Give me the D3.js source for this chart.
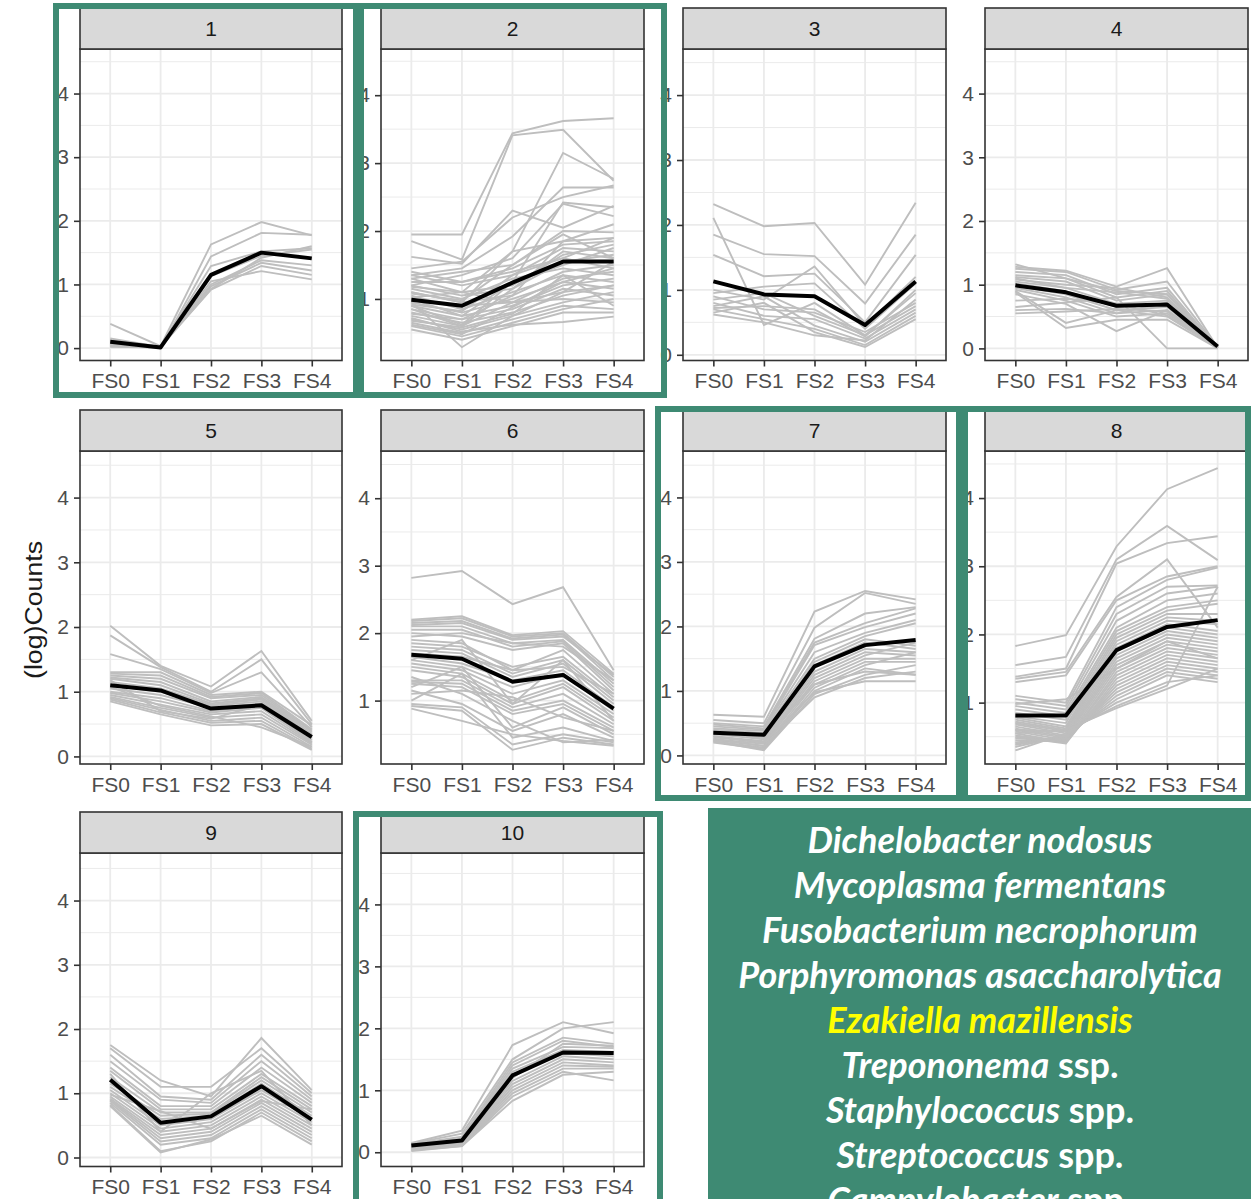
<!DOCTYPE html>
<html>
<head>
<meta charset="utf-8">
<script src="https://cdn.jsdelivr.net/npm/d3@7"></script>
<style>
  body { margin: 0; background: #fff; }
  svg { display: block; }
</style>
</head>
<body>
<div id="chart"></div>
<script>
// stages on the x axis
var stages = ["FS0", "FS1", "FS2", "FS3", "FS4"];
var yTicks = [0, 1, 2, 3, 4];
var yMinor = [0.5, 1.5, 2.5, 3.5, 4.5];
var panelNames = ["1", "2", "3", "4", "5", "6", "7", "8", "9", "10"];
var highlighted = ["1", "2", "7", "8", "10"];

// cluster mean (black line)
var meanLines = [
  [0.10, 0.01, 1.15, 1.50, 1.41],
  [0.99, 0.90, 1.24, 1.55, 1.55],
  [1.13, 0.93, 0.90, 0.46, 1.13],
  [0.99, 0.88, 0.67, 0.69, 0.03],
  [1.10, 1.02, 0.74, 0.79, 0.30],
  [1.68, 1.62, 1.28, 1.38, 0.88],
  [0.35, 0.32, 1.38, 1.71, 1.79],
  [0.81, 0.81, 1.77, 2.11, 2.21],
  [1.21, 0.54, 0.64, 1.11, 0.59],
  [0.11, 0.19, 1.24, 1.61, 1.60]
];

// individual taxa (grey lines), one array per cluster
var grey1 = [
  [0.38,0.03,1.63,1.98,1.77],[0.05,0.00,1.44,1.81,1.78],[0.12,0.02,1.29,1.52,1.57],
  [0.08,0.00,1.13,1.45,1.55],[0.02,0.01,0.97,1.34,1.22],[0.15,0.02,0.92,1.29,1.15],
  [0.05,0.00,1.05,1.21,1.08],[0.10,0.01,1.00,1.38,1.30],[0.03,0.02,0.93,1.42,1.60]
];
var grey2 = [
  [1.95,1.95,3.44,3.62,3.66],[1.85,1.58,3.41,3.49,2.74],[1.02,1.10,1.70,3.15,2.77],
  [1.62,1.52,2.30,2.05,2.37],[1.45,1.55,2.20,2.50,2.67],[1.35,1.45,1.92,2.64,2.64],
  [1.20,1.35,1.60,2.40,2.22],[0.90,0.62,1.25,2.42,2.35],[1.10,0.95,1.70,1.85,2.10],
  [1.30,1.40,1.50,2.00,1.98],[0.95,0.29,0.75,1.10,1.55],[1.40,1.25,1.45,1.80,1.85],
  [1.35,1.20,1.35,1.75,1.70],[1.30,1.10,1.20,1.65,1.80],[1.25,1.25,1.40,1.60,1.45],
  [1.20,1.05,1.15,1.55,1.65],[1.15,1.00,1.30,1.45,1.35],[1.10,0.95,1.05,1.40,1.50],
  [1.05,0.85,1.10,1.35,1.25],[1.00,0.90,0.95,1.30,1.40],[0.95,0.80,1.00,1.25,1.15],
  [0.90,0.75,0.90,1.20,1.30],[0.85,0.70,0.85,1.15,1.05],[0.80,0.65,0.80,1.05,1.20],
  [0.75,0.60,0.95,1.00,0.95],[0.70,0.55,0.75,0.95,1.10],[0.65,0.50,0.70,0.90,0.85],
  [0.60,0.45,0.65,0.85,1.00],[0.55,0.40,0.60,0.80,0.80],[0.72,0.52,0.62,0.66,0.74],
  [0.85,0.60,1.15,1.70,1.60],[1.00,0.75,1.25,1.50,1.75],[0.78,0.70,1.05,1.85,1.90],
  [1.18,1.10,0.95,1.10,1.20],[0.62,0.48,0.88,1.25,1.45],[0.92,0.82,1.35,1.60,1.90],
  [1.08,0.98,1.50,1.95,1.60],[0.68,0.58,0.78,1.35,0.90]
];
var grey3 = [
  [2.32,1.98,2.03,1.08,2.34],[2.11,0.46,0.80,0.30,0.95],[1.85,1.55,1.52,0.79,1.85],
  [1.54,1.21,1.25,0.50,1.54],[1.00,0.85,1.36,0.45,1.20],[0.95,1.05,1.10,0.40,1.10],
  [0.90,0.70,0.65,0.35,0.80],[0.85,0.95,0.60,0.30,0.75],[0.80,0.60,0.55,0.25,0.70],
  [0.75,0.90,0.45,0.20,0.65],[0.70,0.55,0.40,0.15,0.60],[0.65,0.80,0.35,0.12,0.55],
  [0.62,0.50,0.30,0.22,0.85],[0.72,0.75,0.70,0.28,1.00]
];
var grey4 = [
  [1.32,1.10,0.90,0.85,0.02],[1.28,1.22,0.97,1.26,0.01],[1.25,1.20,0.92,1.05,0.02],
  [1.20,1.15,0.85,0.95,0.01],[1.15,1.10,0.80,0.90,0.00],[1.12,1.05,0.75,0.85,0.02],
  [1.08,1.00,0.95,0.80,0.01],[1.05,0.95,0.70,0.75,0.00],[1.02,0.90,0.65,0.70,0.02],
  [0.98,0.85,0.60,0.65,0.01],[0.95,0.80,0.55,0.60,0.00],[0.92,0.75,0.50,0.55,0.02],
  [0.90,0.40,0.60,0.50,0.01],[0.88,0.32,0.45,0.45,0.00],[0.85,0.70,0.27,0.60,0.02],
  [0.65,0.72,0.80,0.00,0.00],[0.60,0.62,0.55,0.72,0.01],[0.55,0.58,0.62,0.58,0.00],
  [1.10,0.95,0.88,0.78,0.02],[0.75,0.78,0.70,0.52,0.01]
];
var grey5 = [
  [2.02,1.40,1.08,1.63,0.55],[1.87,1.38,1.00,1.50,0.50],[1.58,1.35,0.98,1.30,0.45],
  [1.30,1.30,0.95,1.00,0.48],[1.28,1.25,0.92,0.98,0.42],[1.25,1.20,0.90,0.95,0.40],
  [1.22,1.15,0.85,0.92,0.38],[1.20,1.10,0.82,0.90,0.35],[1.15,1.05,0.80,0.88,0.32],
  [1.10,1.00,0.78,0.85,0.30],[1.05,0.95,0.75,0.82,0.28],[1.00,0.90,0.70,0.78,0.25],
  [0.98,0.85,0.68,0.75,0.22],[0.95,0.80,0.65,0.70,0.20],[0.92,0.75,0.60,0.65,0.18],
  [0.90,0.72,0.55,0.60,0.15],[0.88,0.68,0.52,0.55,0.12],[0.85,0.65,0.48,0.50,0.10],
  [1.08,0.78,0.62,0.45,0.15],[1.18,0.70,0.58,0.80,0.22]
];
var grey6 = [
  [2.82,2.92,2.43,2.68,1.45],[2.20,2.25,1.97,2.03,1.40],[2.18,2.22,1.95,2.00,1.35],
  [2.15,2.18,1.92,1.98,1.30],[2.12,2.15,1.90,1.95,1.38],[2.10,2.10,1.85,1.90,1.25],
  [2.05,2.05,1.80,1.88,1.20],[2.00,1.95,1.75,1.85,1.15],[1.95,2.00,1.85,1.80,1.30],
  [1.90,1.85,1.45,1.75,1.10],[1.85,1.80,1.50,1.65,1.05],[1.80,1.75,1.40,1.60,1.00],
  [1.75,1.70,1.35,1.55,0.95],[1.70,1.65,1.45,1.50,1.10],[1.65,1.55,1.30,1.45,0.90],
  [1.60,1.50,1.20,1.40,0.85],[1.55,1.45,1.10,1.30,0.80],[1.50,1.40,1.00,1.25,0.75],
  [1.45,1.35,0.95,1.20,0.70],[1.30,1.30,0.90,1.10,0.65],[1.28,1.25,0.85,1.00,0.60],
  [1.25,1.20,0.80,0.95,0.55],[1.20,1.50,0.60,0.90,0.50],[1.15,0.95,0.55,0.80,0.45],
  [1.00,1.40,0.45,0.60,0.40],[0.95,0.90,0.35,0.50,0.38],[0.92,0.85,0.27,0.45,0.35],
  [0.88,0.70,0.50,0.40,0.33],[1.10,1.15,1.05,0.75,0.55],[1.35,1.10,0.70,0.38,0.42],
  [1.60,1.90,0.95,1.60,0.70]
];
var grey7 = [
  [0.63,0.60,2.23,2.55,2.42],[0.55,0.50,1.98,2.52,2.35],[0.50,0.45,1.81,2.20,2.30],
  [0.48,0.42,1.75,2.05,2.28],[0.45,0.40,1.71,1.99,2.20],[0.42,0.38,1.60,1.90,2.10],
  [0.40,0.35,1.50,1.85,2.05],[0.38,0.30,1.45,1.80,1.70],[0.35,0.28,1.40,1.75,1.65],
  [0.33,0.25,1.30,1.65,1.60],[0.30,0.22,1.25,1.60,1.55],[0.28,0.20,1.20,1.55,1.75],
  [0.25,0.18,1.15,1.50,1.50],[0.24,0.15,1.10,1.45,1.45],[0.22,0.12,1.05,1.40,1.60],
  [0.20,0.10,1.00,1.35,1.25],[0.22,0.08,0.95,1.25,1.40],[0.26,0.14,0.90,1.20,1.30],
  [0.30,0.20,0.98,1.15,1.15],[0.36,0.26,1.10,1.30,1.25]
];
var grey8 = [
  [1.83,1.99,3.29,4.13,4.44],[1.55,1.67,3.10,3.59,3.09],[1.38,1.50,3.04,3.34,3.44],
  [1.35,1.45,2.55,3.10,2.10],[1.30,1.40,2.50,2.85,3.00],[1.10,1.00,2.40,2.80,2.98],
  [1.05,0.95,2.30,2.70,2.72],[1.00,0.90,2.20,2.60,2.70],[0.95,0.85,2.10,2.50,2.60],
  [0.90,0.80,2.05,2.40,2.50],[0.85,0.75,2.00,2.35,2.45],[0.80,0.70,1.95,2.30,2.30],
  [0.78,0.65,1.90,2.25,2.20],[0.75,0.62,1.85,2.20,2.15],[0.72,0.60,1.80,2.15,2.05],
  [0.70,0.58,1.75,2.10,2.00],[0.68,0.55,1.70,2.05,1.95],[0.65,0.52,1.65,2.00,1.90],
  [0.62,0.50,1.60,1.95,1.85],[0.60,0.48,1.55,1.90,1.80],[0.58,0.45,1.50,1.85,1.75],
  [0.55,0.42,1.45,1.80,1.70],[0.52,0.42,1.40,1.75,1.65],[0.50,0.40,1.35,1.70,1.60],
  [0.48,0.42,1.30,1.65,1.55],[0.45,0.44,1.25,1.60,1.50],[0.42,0.46,1.20,1.55,1.45],
  [0.40,0.48,1.15,1.50,1.40],[0.38,0.50,1.10,1.45,1.35],[0.35,0.52,1.05,1.40,1.30],
  [0.30,0.55,1.00,1.30,1.40],[0.60,0.58,0.95,1.25,2.70],[0.55,0.60,0.92,1.20,1.50],
  [0.98,1.05,1.50,1.90,1.65]
];
var grey9 = [
  [1.75,1.20,0.95,1.86,1.05],[1.70,1.10,1.10,1.70,1.00],[1.60,0.95,0.90,1.60,0.95],
  [1.50,0.90,0.85,1.50,0.90],[1.40,0.80,0.80,1.40,0.85],[1.35,0.75,0.75,1.30,0.80],
  [1.25,0.70,0.70,1.25,0.75],[1.15,0.65,0.68,1.20,0.70],[1.10,0.60,0.65,1.15,0.65],
  [1.05,0.50,0.60,1.05,0.60],[1.00,0.45,0.55,1.00,0.55],[0.95,0.40,0.50,0.95,0.50],
  [0.92,0.35,0.45,0.90,0.45],[0.90,0.30,0.40,0.85,0.40],[0.88,0.25,0.35,0.80,0.35],
  [0.85,0.20,0.30,0.75,0.30],[0.82,0.10,0.25,0.70,0.25],[0.80,0.08,0.28,0.65,0.20],
  [1.30,0.40,1.00,1.35,0.50],[0.98,0.72,0.45,0.88,0.75]
];
var grey10 = [
  [0.15,0.35,1.73,2.10,1.92],[0.14,0.30,1.50,2.00,2.10],[0.13,0.25,1.45,1.85,1.75],
  [0.12,0.22,1.40,1.80,1.70],[0.11,0.20,1.35,1.70,1.68],[0.10,0.18,1.30,1.65,1.62],
  [0.09,0.16,1.25,1.60,1.55],[0.08,0.15,1.15,1.55,1.50],[0.07,0.14,1.10,1.50,1.45],
  [0.06,0.13,1.05,1.45,1.40],[0.05,0.12,1.00,1.40,1.38],[0.04,0.11,0.95,1.35,1.35],
  [0.03,0.10,0.90,1.30,1.16],[0.02,0.10,0.83,1.25,1.30],[0.08,0.20,1.20,1.75,1.72]
];
var greyLines = [grey1, grey2, grey3, grey4, grey5, grey6, grey7, grey8, grey9, grey10];

// species list in the text box
var speciesItalic = ["Dichelobacter nodosus", "Mycoplasma fermentans", "Fusobacterium necrophorum",
  "Porphyromonas asaccharolytica", "Ezakiella mazillensis", "Trepononema", "Staphylococcus",
  "Streptococcus", "Campylobacter"];
var speciesSuffix = ["", "", "", "", "", " ssp.", " spp.", " spp.", " spp."];
var speciesMarked = ["Ezakiella mazillensis"];

// each panel was pasted at a slightly different vertical scale
var panelYDomain = [
  [-0.195, 4.70], [0.094, 4.68], [-0.088, 4.71], [-0.19, 4.70], [-0.117, 4.72],
  [0.06, 4.70], [-0.133, 4.72], [0.10, 4.69], [-0.14, 4.74], [-0.23, 4.83]
];

var W = 1251, H = 1199;
var green = "#3e8a73";
var font = "Liberation Sans, Arial, sans-serif";
var cols = [[80, 342], [381, 644], [683, 946], [985, 1248]];
var rows = [{strip: 8, top: 49, bottom: 360.5}, {strip: 410, top: 451, bottom: 764}, {strip: 812, top: 853, bottom: 1166.5}];

var svg = d3.select("#chart").append("svg").attr("width", W).attr("height", H);

var line = d3.line();

panelNames.forEach(function(name, i) {
  var c = cols[i % 4], r = rows[Math.floor(i / 4)];
  var x = d3.scalePoint().domain(stages).range(c).padding(0.6);
  var y = d3.scaleLinear().domain(panelYDomain[i]).range([r.bottom, r.top]);
  var g = svg.append("g").attr("class", "panel");

  g.append("rect").attr("x", c[0]).attr("y", r.top).attr("width", c[1] - c[0]).attr("height", r.bottom - r.top)
    .attr("fill", "#fff");

  var minor = yMinor.filter(function(v) { return v > y.domain()[0] && v < y.domain()[1]; });
  var major = yTicks.filter(function(v) { return v > y.domain()[0] && v < y.domain()[1]; });

  g.selectAll(".minor").data(minor).enter().append("line")
    .attr("x1", c[0]).attr("x2", c[1]).attr("y1", y).attr("y2", y)
    .attr("stroke", "#ebebeb").attr("stroke-width", 1);
  g.selectAll(".major").data(major).enter().append("line")
    .attr("x1", c[0]).attr("x2", c[1]).attr("y1", y).attr("y2", y)
    .attr("stroke", "#ebebeb").attr("stroke-width", 1.8);
  g.selectAll(".vgrid").data(stages).enter().append("line")
    .attr("x1", x).attr("x2", x).attr("y1", r.top).attr("y2", r.bottom)
    .attr("stroke", "#ebebeb").attr("stroke-width", 1.8);

  g.selectAll(".grey").data(greyLines[i]).enter().append("path")
    .attr("d", function(d) { return line(d.map(function(v, k) { return [x(stages[k]), y(v)]; })); })
    .attr("fill", "none").attr("stroke", "#bebebe").attr("stroke-width", 1.9);

  g.append("path")
    .attr("d", line(meanLines[i].map(function(v, k) { return [x(stages[k]), y(v)]; })))
    .attr("fill", "none").attr("stroke", "#000").attr("stroke-width", 4).attr("stroke-linejoin", "round");

  g.append("rect").attr("x", c[0]).attr("y", r.top).attr("width", c[1] - c[0]).attr("height", r.bottom - r.top)
    .attr("fill", "none").attr("stroke", "#333").attr("stroke-width", 1.6);

  // strip
  g.append("rect").attr("x", c[0]).attr("y", r.strip).attr("width", c[1] - c[0]).attr("height", r.top - r.strip)
    .attr("fill", "#d9d9d9").attr("stroke", "#333").attr("stroke-width", 1.6);
  g.append("text").attr("x", (c[0] + c[1]) / 2).attr("y", (r.strip + r.top) / 2 + 7)
    .attr("text-anchor", "middle").attr("font-family", font)
    .attr("font-size", 21).attr("fill", "#1a1a1a").text(name);

  // axes
  var ya = g.append("g").attr("transform", "translate(" + c[0] + ",0)")
    .call(d3.axisLeft(y).tickValues(major).tickFormat(d3.format("d")).tickSize(6).tickPadding(5));
  var xa = g.append("g").attr("transform", "translate(0," + r.bottom + ")")
    .call(d3.axisBottom(x).tickSize(6).tickPadding(7));
  [ya, xa].forEach(function(a) {
    a.select(".domain").remove();
    a.selectAll(".tick line").attr("stroke", "#333").attr("stroke-width", 1.6);
    a.selectAll(".tick text").attr("fill", "#4d4d4d").attr("font-size", 21).attr("font-family", font);
  });
});

svg.append("text")
  .attr("transform", "translate(42,610) rotate(-90)")
  .attr("text-anchor", "middle").attr("font-family", font)
  .attr("font-size", 23).attr("textLength", 138).attr("lengthAdjust", "spacingAndGlyphs")
  .attr("fill", "#1a1a1a").text("(log)Counts");

// highlight frames around selected clusters
var frames = {"1": [56, 6, 356, 395], "2": [361, 6, 664, 395], "7": [658, 409, 959, 798],
  "8": [965, 409, 1248, 798], "10": [356, 814, 660, 1215]};
highlighted.forEach(function(n) {
  var f = frames[n];
  svg.append("rect").attr("x", f[0]).attr("y", f[1]).attr("width", f[2] - f[0]).attr("height", f[3] - f[1])
    .attr("fill", "none").attr("stroke", green).attr("stroke-width", 6);
});

// species box
svg.append("rect").attr("x", 708).attr("y", 808).attr("width", 560).attr("height", 420).attr("fill", green);
var box = svg.append("g").attr("font-family", "Lato, 'Open Sans', sans-serif").attr("font-weight", "bold")
  .attr("font-size", 36).attr("text-anchor", "middle");
speciesItalic.forEach(function(s, i) {
  var t = box.append("text").attr("x", 980).attr("y", 853 + i * 45)
    .attr("fill", speciesMarked.indexOf(s) >= 0 ? "#ffff00" : "#fff");
  t.append("tspan").attr("font-style", "italic").text(s);
  if (speciesSuffix[i]) t.append("tspan").text(speciesSuffix[i]);
});
</script>
</body>
</html>
